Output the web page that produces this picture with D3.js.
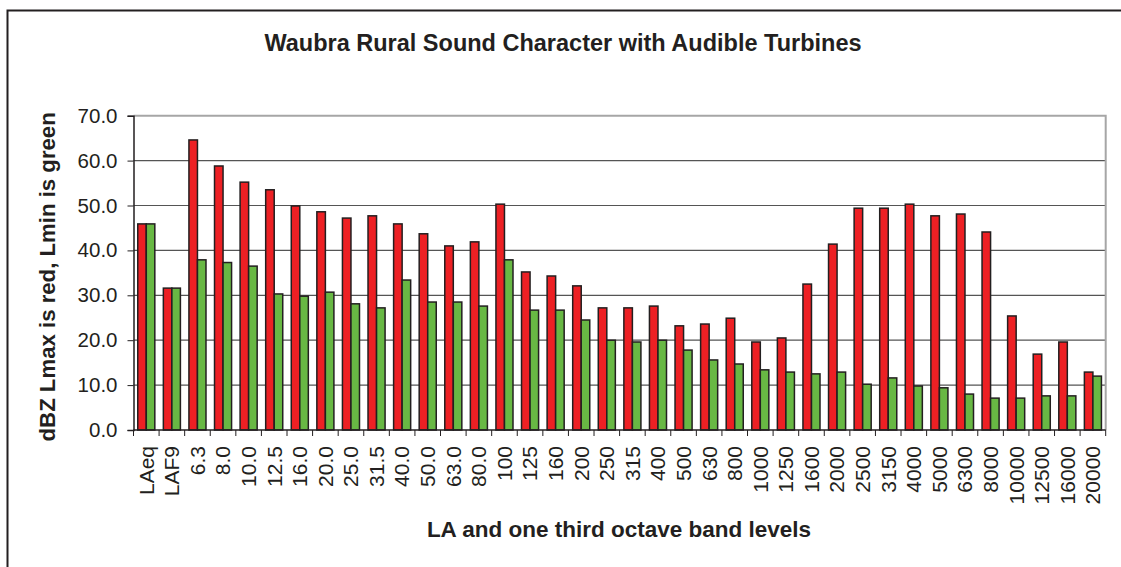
<!DOCTYPE html>
<html>
<head>
<meta charset="utf-8">
<script src="https://cdn.jsdelivr.net/npm/d3@7"></script>
<style>
  html, body { margin: 0; padding: 0; background: #fff; }
  svg { display: block; }
  text { font-family: "Liberation Sans", Arial, sans-serif; fill: #231f20; }
</style>
</head>
<body>
<svg id="chart" width="1121" height="567"></svg>
<script>
// Band labels: A-weighted totals followed by one third octave centre frequencies (Hz)
const bands = ["LAeq", "LAF9", "6.3", "8.0", "10.0", "12.5", "16.0", "20.0", "25.0", "31.5",
  "40.0", "50.0", "63.0", "80.0", "100", "125", "160", "200", "250", "315", "400", "500",
  "630", "800", "1000", "1250", "1600", "2000", "2500", "3150", "4000", "5000", "6300",
  "8000", "10000", "12500", "16000", "20000"];

// Lmax (red) levels, dBZ
const lmax = [45.9, 31.6, 64.6, 58.8, 55.2, 53.5, 49.9, 48.6, 47.2, 47.7,
  45.9, 43.7, 41.0, 41.9, 50.3, 35.2, 34.3, 32.1, 27.2, 27.2, 27.6, 23.2,
  23.6, 24.9, 19.6, 20.5, 32.5, 41.4, 49.4, 49.4, 50.3, 47.7, 48.1,
  44.1, 25.4, 16.9, 19.6, 12.9];

// Lmin (green) levels, dBZ
const lmin = [45.9, 31.6, 37.9, 37.3, 36.5, 30.3, 29.8, 30.7, 28.1, 27.2,
  33.4, 28.5, 28.5, 27.6, 37.9, 26.7, 26.7, 24.5, 20.0, 19.6, 20.0, 17.8,
  15.6, 14.7, 13.4, 12.9, 12.5, 12.9, 10.2, 11.6, 9.8, 9.4, 8.0,
  7.1, 7.1, 7.6, 7.6, 12.0];

const yTicks = [0, 10, 20, 30, 40, 50, 60, 70];
const seriesNames = ["Lmax", "Lmin"];
const seriesColors = ["#ed2024", "#68b844"];

const svg = d3.select("#chart");

// Outer chart frame
svg.append("rect")
  .attr("x", 7.5).attr("y", 10.5)
  .attr("width", 1200).attr("height", 700)
  .attr("fill", "none").attr("stroke", "#231f20").attr("stroke-width", 2);

const plot = { left: 133.5, top: 115.7, right: 1105.7, bottom: 430 };

const x = d3.scaleBand().domain(bands).range([plot.left, plot.right]).padding(0);
const xs = d3.scaleBand().domain(seriesNames).range([0, x.bandwidth()])
  .paddingInner(0).paddingOuter(0.5);
const y = d3.scaleLinear().domain([0, 70]).range([plot.bottom, plot.top]);

// Horizontal gridlines
svg.append("g")
  .selectAll("line")
  .data(yTicks.filter(t => t > 0 && t < 70))
  .join("line")
  .attr("x1", plot.left).attr("x2", plot.right)
  .attr("y1", d => y(d)).attr("y2", d => y(d))
  .attr("stroke", "#555").attr("stroke-width", 1.2);

// Plot area top and right edges
svg.append("path")
  .attr("d", `M${plot.left},${y(70)}H${plot.right}V${plot.bottom}`)
  .attr("fill", "none").attr("stroke", "#a6a6a6").attr("stroke-width", 2);

// Bars
const rows = bands.map((b, i) => ({ band: b, values: [lmax[i], lmin[i]] }));
const groups = svg.append("g")
  .selectAll("g")
  .data(rows)
  .join("g")
  .attr("transform", d => `translate(${x(d.band)},0)`);

groups.selectAll("rect")
  .data(d => d.values.map((v, k) => ({ key: seriesNames[k], v, k })))
  .join("rect")
  .attr("x", d => xs(d.key))
  .attr("width", xs.bandwidth())
  .attr("y", d => y(d.v))
  .attr("height", d => y(0) - y(d.v))
  .attr("fill", d => seriesColors[d.k])
  .attr("stroke", "#231f20")
  .attr("stroke-width", 1.5);

// Y axis
const yAxis = d3.axisLeft(y).tickValues(yTicks).tickFormat(d3.format(".1f"))
  .tickSize(6).tickPadding(10);
const gy = svg.append("g").attr("transform", `translate(${plot.left},0)`).call(yAxis);
gy.select(".domain").attr("stroke", "#231f20").attr("stroke-width", 1.5);
gy.selectAll(".tick line").attr("stroke", "#231f20");
gy.selectAll(".tick text")
  .attr("font-size", 20.5)
  .attr("font-family", "Liberation Sans, Arial, sans-serif")
  .attr("fill", "#231f20");

// X axis: ticks on band boundaries, labels centred on bands
const gx = svg.append("g").attr("transform", `translate(0,${plot.bottom})`);
gx.append("line")
  .attr("x1", plot.left).attr("x2", plot.right)
  .attr("stroke", "#231f20").attr("stroke-width", 1.5);
gx.selectAll("line.tk")
  .data(bands.concat(["__end"]))
  .join("line")
  .attr("class", "tk")
  .attr("x1", (d, i) => i < bands.length ? x(d) : plot.right)
  .attr("x2", (d, i) => i < bands.length ? x(d) : plot.right)
  .attr("y1", 0).attr("y2", 6)
  .attr("stroke", "#231f20").attr("stroke-width", 1);
gx.selectAll("text")
  .data(bands)
  .join("text")
  .attr("transform", d => `translate(${x(d) + x.bandwidth() / 2},16) rotate(-90)`)
  .attr("text-anchor", "end")
  .attr("dy", "0.35em")
  .attr("font-size", 21)
  .text(d => d);

// Titles
svg.append("text")
  .attr("x", 563).attr("y", 51)
  .attr("text-anchor", "middle")
  .attr("font-size", 23.5).attr("font-weight", "bold")
  .text("Waubra Rural Sound Character with Audible Turbines");

svg.append("text")
  .attr("x", 619).attr("y", 537)
  .attr("text-anchor", "middle")
  .attr("font-size", 22.5).attr("font-weight", "bold")
  .text("LA and one third octave band levels");

svg.append("text")
  .attr("transform", `translate(55,${(plot.top + plot.bottom) / 2 + 4}) rotate(-90)`)
  .attr("text-anchor", "middle")
  .attr("font-size", 22.2).attr("font-weight", "bold")
  .text("dBZ Lmax is red, Lmin is green");
</script>
</body>
</html>
